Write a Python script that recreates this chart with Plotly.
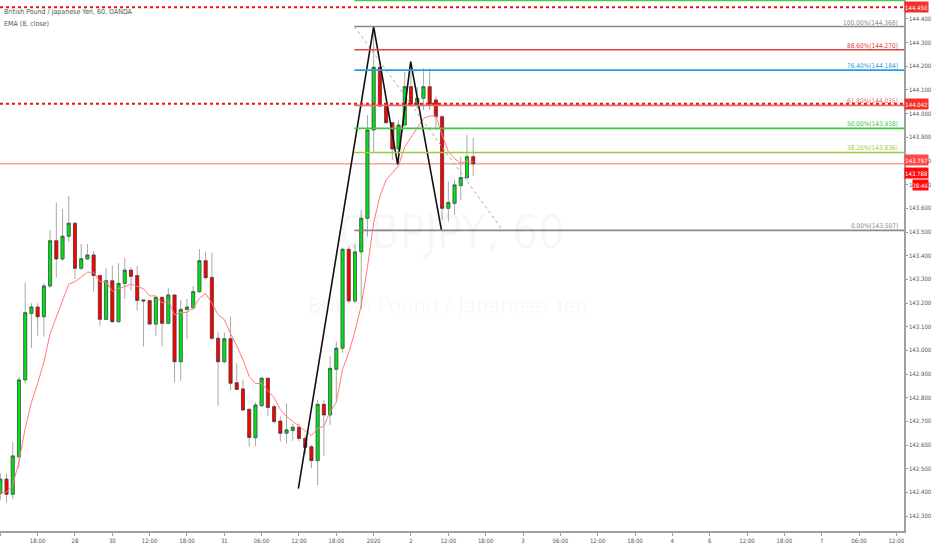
import plotly.graph_objects as go

# ---------------- data ----------------
opens = [142.396, 142.456, 142.392, 142.551, 142.875, 143.156, 143.183, 143.142, 143.272, 143.463,
         143.386, 143.482, 143.537, 143.347, 143.386, 143.403, 143.316, 143.131, 143.294, 143.121,
         143.283, 143.339, 143.316, 143.213, 143.210, 143.111, 143.224, 143.114, 143.234, 142.952,
         143.173, 143.180, 143.248, 143.379, 143.308, 143.051, 142.952, 143.049, 142.863, 142.837,
         142.751, 142.631, 142.766, 142.882, 142.762, 142.701, 142.650, 142.661, 142.675, 142.628,
         142.593, 142.534, 142.772, 142.727, 142.920, 143.009, 143.427, 143.209, 143.416, 143.558,
         143.931, 144.196, 144.032, 143.962, 143.851, 143.952, 144.114, 144.039, 144.065, 144.114,
         144.058, 143.987, 143.600, 143.621, 143.696, 143.730, 143.818]
highs = [142.480, 142.480, 142.614, 142.889, 143.286, 143.199, 143.199, 143.283, 143.508, 143.625,
         143.597, 143.652, 143.539, 143.449, 143.449, 143.420, 143.316, 143.347, 143.358, 143.368,
         143.390, 143.351, 143.356, 143.213, 143.212, 143.227, 143.227, 143.263, 143.236, 143.213,
         143.217, 143.272, 143.428, 143.417, 143.413, 143.079, 143.076, 143.144, 142.945, 142.875,
         142.751, 142.780, 142.889, 142.885, 142.770, 142.720, 142.776, 142.690, 142.690, 142.640,
         142.600, 142.790, 142.790, 142.976, 143.037, 143.431, 143.440, 143.452, 143.593, 143.994,
         144.368, 144.199, 144.032, 143.962, 143.973, 144.177, 144.220, 144.114, 144.191, 144.191,
         144.072, 143.994, 143.713, 143.720, 143.818, 143.910, 143.898]
lows = [142.368, 142.356, 142.371, 142.502, 142.860, 143.011, 143.062, 143.058, 143.265, 143.307,
        143.378, 143.459, 143.301, 143.340, 143.382, 143.248, 143.104, 143.128, 143.117, 143.117,
        143.217, 143.251, 143.168, 143.016, 143.108, 143.061, 143.016, 143.112, 142.865, 142.872,
        143.047, 143.170, 143.241, 143.300, 143.045, 142.766, 142.945, 142.832, 142.835, 142.745,
        142.593, 142.596, 142.760, 142.723, 142.690, 142.614, 142.607, 142.618, 142.615, 142.560,
        142.502, 142.431, 142.554, 142.685, 142.790, 142.990, 143.199, 143.199, 143.175, 143.480,
        143.839, 144.028, 143.958, 143.804, 143.786, 143.945, 144.029, 144.019, 144.015, 144.015,
        143.931, 143.551, 143.544, 143.572, 143.635, 143.720, 143.738]
closes = [142.456, 142.392, 142.554, 142.875, 143.159, 143.183, 143.142, 143.272, 143.463, 143.386,
          143.482, 143.537, 143.347, 143.387, 143.403, 143.316, 143.131, 143.294, 143.121, 143.283,
          143.339, 143.313, 143.211, 143.209, 143.111, 143.224, 143.114, 143.234, 142.952, 143.173,
          143.183, 143.248, 143.379, 143.307, 143.051, 142.952, 143.049, 142.861, 142.835, 142.748,
          142.632, 142.769, 142.882, 142.759, 142.699, 142.650, 142.664, 142.675, 142.628, 142.590,
          142.534, 142.772, 142.727, 142.924, 143.009, 143.427, 143.209, 143.416, 143.558, 143.931,
          144.196, 144.032, 143.962, 143.851, 143.952, 144.114, 144.039, 144.065, 144.114, 144.039,
          143.987, 143.600, 143.625, 143.699, 143.730, 143.818, 143.788]
ema8 = [142.40, 142.40, 142.43, 142.53, 142.67, 142.78, 142.86, 142.95, 143.07, 143.14,
        143.21, 143.28, 143.29, 143.31, 143.33, 143.33, 143.29, 143.29, 143.25, 143.26,
        143.27, 143.28, 143.27, 143.26, 143.23, 143.23, 143.20, 143.21, 143.15, 143.16,
        143.16, 143.18, 143.22, 143.24, 143.20, 143.15, 143.13, 143.07, 143.02, 142.96,
        142.89, 142.86, 142.86, 142.83, 142.80, 142.75, 142.72, 142.70, 142.68, 142.66,
        142.64, 142.67, 142.68, 142.74, 142.78, 142.92, 142.99, 143.08, 143.19, 143.35,
        143.54, 143.65, 143.72, 143.75, 143.78, 143.86, 143.90, 143.94, 143.98, 143.99,
        143.99, 143.91, 143.84, 143.81, 143.79, 143.80, 143.797]
bars = list(range(len(closes)))

tick_bars = list(range(0, 145, 6))
tick_labels = ["12:00", "18:00", "28", "30", "12:00", "18:00", "31", "06:00", "12:00", "18:00",
               "2020", "2", "12:00", "18:00", "3", "06:00", "12:00", "18:00", "4", "6",
               "12:00", "18:00", "7", "06:00", "12:00"]
price_ticks = [142.3, 142.4, 142.5, 142.6, 142.7, 142.8, 142.9, 143.0, 143.1, 143.2, 143.3,
               143.4, 143.5, 143.6, 143.7, 143.8, 143.9, 144.0, 144.1, 144.2, 144.3, 144.4]

# zigzag drawing (bar index, price)
zigzag_bars = [47.9, 60.0, 63.85, 65.95, 70.9]
zigzag_prices = [142.416, 144.368, 143.786, 144.220, 143.507]

# Fibonacci retracement
fib_start_bar = 56.9
fib_trend_bars = [56.9, 80.75]
fib_trend_prices = [144.368, 143.507]
fib_labels = ["0.00%", "38.20%", "50.00%", "61.80%", "76.40%", "88.60%", "100.00%", ""]
fib_prices = [143.507, 143.836, 143.938, 144.035, 144.184, 144.270, 144.368, 144.478]
fib_colors = ["#8a8a8a", "#9ccc3c", "#43c443", "#f06a6a", "#2a9be0", "#e04040", "#8a8a8a", "#3fcf3f"]

hlines = [144.450, 144.042]

X_RANGE = [-0.05, 145.23]
Y_RANGE = [142.2367, 144.4802]

FONT = "DejaVu Sans Condensed, Liberation Sans Narrow, DejaVu Sans, sans-serif"
GREEN = "#00e21a"
RED = "#ff0000"

fig = go.Figure()

# wicks (full OHLC, grey)
fig.add_trace(go.Candlestick(
    x=bars, open=opens, high=highs, low=lows, close=closes,
    increasing=dict(line=dict(color="#a8a8a8", width=1), fillcolor=GREEN),
    decreasing=dict(line=dict(color="#a8a8a8", width=1), fillcolor=RED),
    hoverinfo="skip", showlegend=False))
# bodies
body_hi = [max(o, c) for o, c in zip(opens, closes)]
body_lo = [min(o, c) for o, c in zip(opens, closes)]
fig.add_trace(go.Candlestick(
    x=bars, open=opens, high=body_hi, low=body_lo, close=closes,
    increasing=dict(line=dict(color="#3a3a3a", width=0.6), fillcolor=GREEN),
    decreasing=dict(line=dict(color="#3a3a3a", width=0.6), fillcolor=RED),
    hoverinfo="skip", showlegend=False))

# EMA
fig.add_trace(go.Scatter(x=bars, y=ema8, mode="lines",
                         line=dict(color="#ff7b7b", width=1), hoverinfo="skip", showlegend=False))

# fib trend (dashed)
fig.add_trace(go.Scatter(x=fib_trend_bars, y=fib_trend_prices, mode="lines",
                         line=dict(color="#a8a8a8", width=1, dash="3px,3px"),
                         hoverinfo="skip", showlegend=False))
# zigzag
fig.add_trace(go.Scatter(x=zigzag_bars, y=zigzag_prices, mode="lines",
                         line=dict(color="#111111", width=1.6), hoverinfo="skip", showlegend=False))

shapes = []
annotations = []
# fib levels
for lab, p, col in zip(fib_labels, fib_prices, fib_colors):
    shapes.append(dict(type="line", xref="x", yref="y", x0=fib_start_bar, x1=X_RANGE[1],
                       y0=p, y1=p, line=dict(color=col, width=1.6), layer="above"))
    if lab:
        annotations.append(dict(xref="paper", yref="y", x=0.9955, y=p, xanchor="right",
                                yanchor="bottom", text=f"{lab}({p:.3f})", showarrow=False,
                                font=dict(family=FONT, size=6.5, color=col), yshift=-2))
# horizontal dotted red lines
for p in hlines:
    shapes.append(dict(type="line", xref="paper", yref="y", x0=0, x1=1, y0=p, y1=p,
                       line=dict(color="#f01010", width=2, dash="dot"), layer="above"))
# last price line
shapes.append(dict(type="line", xref="paper", yref="y", x0=0, x1=1, y0=closes[-1], y1=closes[-1],
                   line=dict(color="#ff7070", width=1), layer="below"))

# right-axis price boxes
def price_box(y, text, bg, yshift=0, xshift=0, w=22):
    annotations.append(dict(xref="paper", yref="y", x=1, y=y, xanchor="left", yanchor="middle",
                            text=text, showarrow=False, bgcolor=bg, width=w, height=9,
                            borderpad=0.5, xshift=xshift, yshift=yshift, align="center",
                            font=dict(family=FONT, size=6, color="white")))

for p in hlines:
    price_box(p, f"{p:.3f}", "#f4302b")
price_box(ema8[-1], f"{ema8[-1]:.3f}", "#ff4747", yshift=2)
price_box(closes[-1], f"{closes[-1]:.3f}", "#ff0a0a", yshift=-9)
price_box(closes[-1], "28:49", "#ff0a0a", yshift=-21, xshift=8, w=14)

# legend text top-left
annotations.append(dict(xref="paper", yref="paper", x=0, xshift=2, y=1, yshift=-12,
                        xanchor="left", yanchor="middle", showarrow=False,
                        text="British Pound / Japanese Yen, 60, OANDA",
                        font=dict(family=FONT, size=7, color="#555555")))
annotations.append(dict(xref="paper", yref="paper", x=0, xshift=2, y=1, yshift=-24,
                        xanchor="left", yanchor="middle", showarrow=False,
                        text="EMA (8, close)",
                        font=dict(family=FONT, size=7, color="#555555")))
# watermark
annotations.append(dict(xref="paper", yref="paper", x=454 / 908, y=1 - 232 / 531,
                        xanchor="center", yanchor="middle", showarrow=False,
                        text="GBPJPY, 60",
                        font=dict(family=FONT, size=46, color="rgba(0,0,0,0.045)")))
annotations.append(dict(xref="paper", yref="paper", x=450 / 908, y=1 - 305 / 531,
                        xanchor="center", yanchor="middle", showarrow=False,
                        text="British Pound / Japanese Yen",
                        font=dict(family=FONT, size=22, color="rgba(0,0,0,0.045)")))

fig.update_layout(
    width=932, height=550,
    margin=dict(l=0, r=24, t=0, b=19),
    paper_bgcolor="white", plot_bgcolor="white",
    showlegend=False,
    shapes=shapes, annotations=annotations,
    xaxis=dict(range=X_RANGE, rangeslider=dict(visible=False), showgrid=False, zeroline=False,
               tickmode="array", tickvals=tick_bars, ticktext=tick_labels,
               ticks="outside", ticklen=3, tickcolor="#999999",
               showline=True, linecolor="#a0a0a0", linewidth=2,
               tickfont=dict(family=FONT, size=6, color="#555555")),
    yaxis=dict(range=Y_RANGE, side="right", showgrid=False, zeroline=False,
               tickmode="array", tickvals=price_ticks,
               ticktext=[f"{v:.3f}" for v in price_ticks],
               ticks="outside", ticklen=2, tickcolor="#999999",
               showline=True, linecolor="#a0a0a0", linewidth=1.5,
               tickfont=dict(family=FONT, size=6, color="#555555")),
)

fig.write_html("out.html", config={"displayModeBar": False},
               post_script="document.body.style.margin='0';")
